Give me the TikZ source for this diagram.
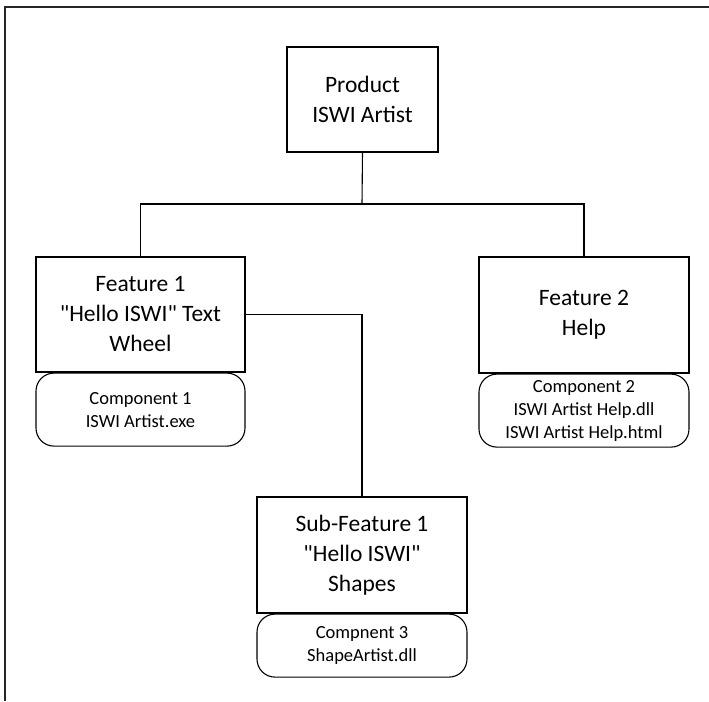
\documentclass[tikz,border=0pt]{standalone}
\usepackage{fontspec}
\setmainfont{Carlito}[Ligatures=TeXOff]
\usepackage{tikz}
\usetikzlibrary{positioning}

\begin{document}
\begin{tikzpicture}[x=1pt, y=-1pt,
  fbox/.style={draw=black, line width=1.1pt, align=center, inner sep=2pt,
    font=\fontsize{23.5}{30}\selectfont},
  cbox/.style={draw=black, line width=1.1pt, rounded corners=18pt, align=center,
    anchor=north, inner sep=2pt, minimum height=73pt, font=\fontsize{18.5}{23}\selectfont},
  link/.style={draw=black, line width=1.1pt}]
\useasboundingbox (0,0) rectangle (709,701);
% frame
\draw[line width=1.6pt, black!85] (709,7) -- (5,7) -- (5,701);
% product
\node[fbox, minimum width=151pt, minimum height=105pt] (prod) at (362.5,99.5) {Product\\ISWI Artist};
% features
\node[fbox, minimum width=209pt, minimum height=115pt] (feat1) at (140.5,314.5) {Feature 1\\"Hello ISWI" Text\\Wheel};
\node[cbox, minimum width=209pt] (comp1) at (feat1.south) {Component 1\\ISWI Artist.exe};
\node[fbox, minimum width=210pt, minimum height=116pt] (feat2) at (584,315) {Feature 2\\Help};
\node[cbox, minimum width=210pt] (comp2) at (feat2.south) {Component 2\\ISWI Artist Help.dll\\ISWI Artist Help.html};
% sub-feature
\node[fbox, minimum width=210pt, minimum height=116pt] (sub1) at (362,555) {Sub-Feature 1\\"Hello ISWI"\\Shapes};
\node[cbox, minimum width=210pt, minimum height=63pt] (comp3) at (sub1.south) {Compnent 3\\ShapeArtist.dll};
% connectors
\coordinate (fork) at (362,204);
\draw[link] (prod.south) -- (fork);
\draw[link] (feat1.north) |- (fork) -| (feat2.north);
\draw[link] (feat1.east) -| (sub1.north);
\end{tikzpicture}
\end{document}
